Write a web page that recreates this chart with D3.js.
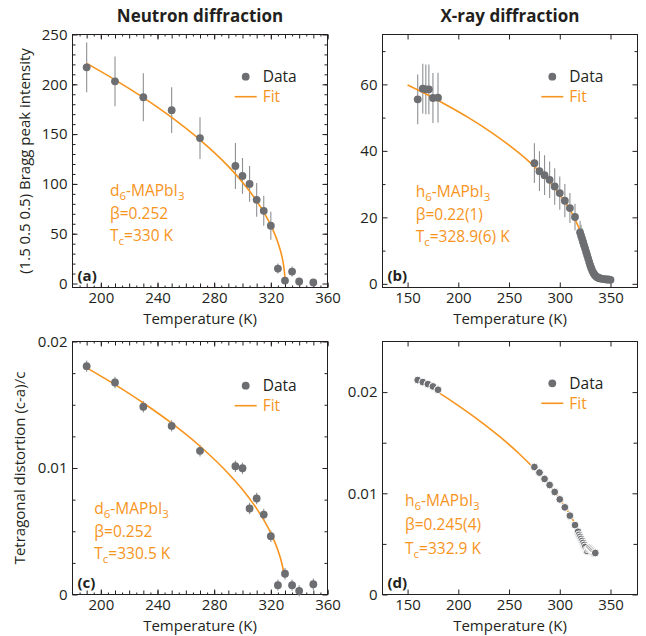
<!DOCTYPE html>
<html lang="en">
<head>
<meta charset="UTF-8">
<title>Neutron and X-ray diffraction vs temperature</title>
<script src="https://d3js.org/d3.v7.min.js"></script>
<style>
  body { margin: 0; background: #fff; }
  svg { font-family: "Open Sans", sans-serif; }
</style>
</head>
<body>
<script>
// (a) neutron diffraction, Bragg peak intensity
const tempA = [190, 210, 230, 250, 270, 295, 300, 305, 310, 315, 320, 325, 330, 335, 340, 350];
const intA  = [217, 203, 187, 174, 146, 118, 108, 100, 84, 73, 58, 15, 3, 12, 2, 1];
const errA  = [25, 25, 24, 23, 21, 23, 18, 18, 17, 15, 14, 5, 3, 5, 3, 3];
const fitTempA = [190, 210, 230, 250, 270, 290, 300, 310, 315, 320, 325, 327, 328, 329, 329.4, 329.7, 329.9, 330];
const fitA     = [221, 204.5, 186.6, 166.7, 144.2, 117.6, 101.7, 82.9, 71.7, 58.5, 41.2, 31.9, 26.0, 18.3, 14.2, 10.0, 5.7, 0];

// (b) x-ray diffraction, Bragg peak intensity
const tempB = [160, 165, 168, 171, 175, 180, 275, 280, 285, 290, 295, 300, 305, 310, 315,
  320, 321, 322, 323, 324, 325, 326, 327, 328, 329, 330, 331, 332, 333, 334, 335, 336, 337, 338, 339, 340,
  342, 344, 346, 348, 350];
const intB = [55.5, 58.7, 58.5, 58.5, 55.9, 56.0, 36.3, 33.9, 32.7, 31.3, 29.3, 27.3, 25.0, 22.8, 20.1,
  15.5, 14.5, 13.6, 12.6, 11.6, 10.6, 9.6, 8.6, 7.6, 6.6, 5.6, 4.8, 4.0, 3.4, 2.9, 2.5, 2.2, 2.0, 1.8, 1.7, 1.6,
  1.5, 1.4, 1.3, 1.3, 1.2];
const errB = [7.5, 7.5, 7.5, 7.5, 7.5, 7.5, 6, 6, 6, 5.5, 5.5, 5, 5, 4.5, 4,
  3.5, 3.3, 3.1, 2.9, 2.7, 2.5, 2.3, 2.1, 1.9, 1.7, 1.5, 1.3, 1.1, 1, 0.9, 0.8, 0.7, 0.6, 0.5, 0.5, 0.5,
  0.5, 0.5, 0.5, 0.5, 0.5];
const fitTempB = [150, 170, 190, 210, 230, 250, 270, 290, 300, 310, 315, 320, 324, 327];
const fitB     = [59.8, 56.8, 53.5, 50.0, 46.1, 41.7, 36.7, 30.6, 26.8, 22.3, 19.4, 16.0, 12.3, 8.1];

// (c) neutron diffraction, tetragonal distortion
const tempC = [190, 210, 230, 250, 270, 295, 300, 305, 310, 315, 320, 325, 330, 335, 340, 350];
const distC = [0.01805, 0.01676, 0.01484, 0.01333, 0.01136, 0.01014, 0.00998, 0.0068, 0.00759, 0.00632,
  0.00461, 0.00074, 0.00164, 0.00074, 0.00029, 0.00081];
const errC  = [0.00045, 0.00045, 0.00045, 0.00045, 0.00045, 0.00045, 0.00045, 0.00045, 0.00045, 0.00045,
  0.00045, 0.00045, 0.00045, 0.00045, 0.00045, 0.00045];
const fitTempC = [190, 210, 230, 250, 270, 290, 300, 310, 315, 320, 325, 327, 328, 329];
const fitC     = [0.01792, 0.01659, 0.01514, 0.01354, 0.01172, 0.00957, 0.0083, 0.00679, 0.0059, 0.00485,
  0.0035, 0.00279, 0.00235, 0.00182];

// (d) x-ray diffraction, tetragonal distortion
const tempD = [160, 165, 170, 175, 180, 275, 280, 285, 290, 295, 300, 305, 310, 315,
  318, 319, 320, 321, 322, 323, 324, 325, 326, 327, 328, 329, 330, 331, 332, 333, 334, 335];
const distD = [0.02119, 0.02099, 0.02079, 0.02056, 0.02023, 0.0126, 0.01205, 0.01142, 0.01082, 0.01013,
  0.0094, 0.00861, 0.00779, 0.00686,
  0.0062, 0.0059, 0.0057, 0.0055, 0.0053, 0.0051, 0.0049, 0.0047, 0.0044, 0.0043, 0.0045, 0.0046,
  0.0045, 0.0044, 0.0043, 0.0042, 0.0041, 0.0041];
const fitTempD = [160, 180, 200, 220, 240, 260, 280, 300, 310, 315, 320, 324, 326];
const fitD     = [0.02124, 0.02, 0.01867, 0.01724, 0.01567, 0.01391, 0.01189, 0.00942, 0.00789, 0.00699,
  0.00595, 0.00496, 0.00438];

const ink = "#231f20", grey = "#6d6e71", barGrey = "#8e9093", orange = "#f7941d";
const W = 646, H = 636;

const svg = d3.select("body").append("svg").attr("width", W).attr("height", H);

const fmtInt = d3.format("d");
const fmtDist = v => v === 0 ? "0" : v.toFixed(2);

const panels = [
  { tag: "(a)", T: tempA, v: intA, e: errA, fT: fitTempA, f: fitA,
    box: [72.5, 327.5, 34.5, 287.5], xd: [180, 360], yd: [-4, 250],
    xTicks: [[d3.range(200, 361, 40), 5, true], [d3.range(190, 361, 10), 4], [d3.range(185, 361, 10), 2]],
    yTicks: [[d3.range(0, 251, 50), 5, true], [d3.range(10, 250, 10), 3]], yFmt: fmtInt,
    legend: [245.7, 76.7], notes: [110, 196, 22.5], beta: "0.252", tc: "330 K", sample: "d",
    stroke: false, titleGap: 36.5 },
  { tag: "(b)", T: tempB, v: intB, e: errB, fT: fitTempB, f: fitB,
    box: [382.5, 637.5, 34.5, 287.5], xd: [125.3, 376.6], yd: [-1.1, 75],
    xTicks: [[d3.range(150, 351, 50), 5, true]],
    yTicks: [[d3.range(0, 61, 20), 5, true], [d3.range(10, 75, 20), 3]], yFmt: fmtInt,
    legend: [552.3, 76.7], notes: [415.7, 197, 22.5], beta: "0.22(1)", tc: "328.9(6) K", sample: "h",
    stroke: false, titleGap: 36.5 },
  { tag: "(c)", T: tempC, v: distC, e: errC, fT: fitTempC, f: fitC,
    box: [72.5, 327.5, 341.5, 594.5], xd: [180, 360], yd: [0, 0.02],
    xTicks: [[d3.range(200, 361, 40), 5, true], [d3.range(190, 361, 10), 4], [d3.range(185, 361, 10), 2]],
    yTicks: [[[0, 0.01, 0.02], 5, true], [[0.0025, 0.005, 0.0075, 0.0125, 0.015, 0.0175], 3]], yFmt: fmtDist,
    legend: [245.7, 385.7], notes: [94.3, 514, 22.5], beta: "0.252", tc: "330.5 K", sample: "d",
    stroke: false, titleGap: 36.5 },
  { tag: "(d)", T: tempD, v: distD, e: null, fT: fitTempD, f: fitD,
    box: [382.5, 637.5, 341.5, 594.5], xd: [125.3, 376.6], yd: [0, 0.025],
    xTicks: [[d3.range(150, 351, 50), 5, true]],
    yTicks: [[[0, 0.01, 0.02], 5, true], [[0.005, 0.015], 4]], yFmt: fmtDist,
    legend: [552.3, 383.3], notes: [405, 506, 24], beta: "0.245(4)", tc: "332.9 K", sample: "h",
    stroke: true, titleGap: 36.5 }
];

function tickGroup(g, axisFn, scale, pos, horizontal, values, len, fmt, pad) {
  const axis = axisFn(scale).tickValues(values).tickSize(-len).tickPadding(pad)
    .tickFormat(fmt || (() => ""));
  const a = g.append("g")
    .attr("transform", horizontal ? `translate(0,${pos})` : `translate(${pos},0)`)
    .call(axis)
    .attr("font-family", null).attr("font-size", null);
  a.select(".domain").remove();
  a.selectAll("line").attr("stroke", ink).attr("stroke-width", 1);
  a.selectAll("text").attr("fill", ink).style("font-size", "15px");
}

function richText(g, x, y, parts, color) {
  const t = g.append("text").attr("x", x).attr("y", y).attr("fill", color).style("font-size", "15.5px");
  let shifted = false;
  parts.forEach(([s, sub]) => {
    const sp = t.append("tspan").text(s);
    if (sub && !shifted) { sp.attr("dy", 4).style("font-size", "11.5px"); shifted = true; }
    else if (!sub && shifted) { sp.attr("dy", -4); shifted = false; }
  });
  return t;
}

panels.forEach(p => {
  const [x0, x1, y0, y1] = p.box;
  const x = d3.scaleLinear().domain(p.xd).range([x0, x1]);
  const y = d3.scaleLinear().domain(p.yd).range([y1, y0]);
  const g = svg.append("g");

  // ticks on all four sides, pointing inwards
  p.xTicks.forEach(([vals, len, lab]) => {
    tickGroup(g, d3.axisBottom, x, y1, true, vals, len, lab ? fmtInt : null, 5);
    tickGroup(g, d3.axisTop, x, y0, true, vals, len, null, 0);
  });
  p.yTicks.forEach(([vals, len, lab]) => {
    tickGroup(g, d3.axisLeft, y, x0, false, vals, len, lab ? p.yFmt : null, 5);
    tickGroup(g, d3.axisRight, y, x1, false, vals, len, null, 0);
  });

  g.append("rect").attr("x", x0).attr("y", y0).attr("width", x1 - x0).attr("height", y1 - y0)
    .attr("fill", "none").attr("stroke", ink).attr("stroke-width", 1);

  const pts = p.T.map((t, i) => ({ t, v: p.v[i], e: p.e ? p.e[i] : 0 }));

  if (p.e) {
    g.append("g").selectAll("line").data(pts).join("line")
      .attr("x1", d => x(d.t)).attr("x2", d => x(d.t))
      .attr("y1", d => y(d.v - d.e)).attr("y2", d => y(d.v + d.e))
      .attr("stroke", barGrey).attr("stroke-width", 1.1);
  }

  const fitPts = p.fT.map((t, i) => [t, p.f[i]]);
  g.append("path").datum(fitPts)
    .attr("d", d3.line().x(d => x(d[0])).y(d => y(d[1])).curve(d3.curveMonotoneX))
    .attr("fill", "none").attr("stroke", orange).attr("stroke-width", 1.6);

  g.append("g").selectAll("circle").data(pts).join("circle")
    .attr("cx", d => x(d.t)).attr("cy", d => y(d.v)).attr("r", 3.9)
    .attr("fill", grey)
    .attr("stroke", p.stroke ? "#fff" : "none").attr("stroke-width", p.stroke ? 1 : 0);

  // legend
  const [lx, ly] = p.legend;
  g.append("circle").attr("cx", lx).attr("cy", ly).attr("r", 3.9).attr("fill", grey);
  g.append("text").attr("x", lx + 17).attr("y", ly + 5.5).attr("fill", ink)
    .style("font-size", "15.5px").text("Data");
  g.append("line").attr("x1", lx - 11).attr("x2", lx + 11).attr("y1", ly + 20).attr("y2", ly + 20)
    .attr("stroke", orange).attr("stroke-width", 1.6);
  g.append("text").attr("x", lx + 17).attr("y", ly + 25.5).attr("fill", orange)
    .style("font-size", "15.5px").text("Fit");

  // sample and fit parameters
  const [nx, ny, ns] = p.notes;
  richText(g, nx, ny, [[p.sample], ["6", true], ["-MAPbI"], ["3", true]], orange);
  richText(g, nx, ny + ns, [["β=" + p.beta]], orange);
  richText(g, nx, ny + 2 * ns, [["T"], ["c", true], ["=" + p.tc]], orange);

  // panel tag
  g.append("text").attr("x", x0 + 5).attr("y", y1 - 7).attr("fill", ink)
    .style("font-size", "15px").style("font-weight", "bold").text(p.tag);

  // x axis title
  g.append("text").attr("x", (x0 + x1) / 2).attr("y", y1 + p.titleGap).attr("text-anchor", "middle")
    .attr("fill", ink).style("font-size", "15px").text("Temperature (K)");
});

// column titles
svg.append("text").attr("x", 200).attr("y", 22).attr("text-anchor", "middle").attr("fill", ink)
  .style("font-size", "17px").style("font-weight", "bold").text("Neutron diffraction");
svg.append("text").attr("x", 510).attr("y", 22).attr("text-anchor", "middle").attr("fill", ink)
  .style("font-size", "17px").style("font-weight", "bold").text("X-ray diffraction");

// y axis titles
svg.append("text").attr("transform", "translate(30,161) rotate(-90)").attr("text-anchor", "middle")
  .attr("fill", ink).style("font-size", "15px").text("(1.5 0.5 0.5) Bragg peak intensity");
svg.append("text").attr("transform", "translate(25,468) rotate(-90)").attr("text-anchor", "middle")
  .attr("fill", ink).style("font-size", "15px").text("Tetragonal distortion (c-a)/c");
</script>
</body>
</html>
